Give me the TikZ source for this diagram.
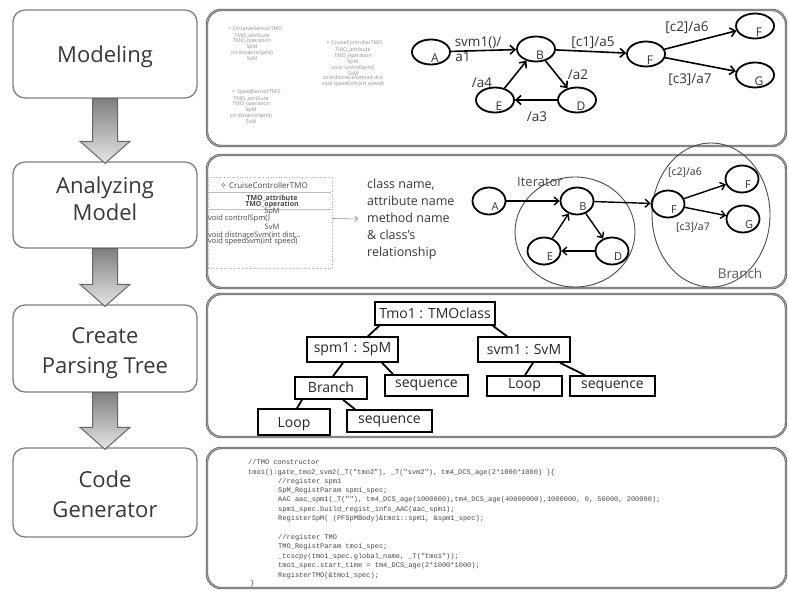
\documentclass[tikz,border=0pt]{standalone}
\usepackage{fontspec}
\setmainfont{Open Sans}
\newfontfamily\codefont{Liberation Mono}
\newfontfamily\symfont{DejaVu Sans}
\usetikzlibrary{arrows.meta,shapes.geometric}

% shaded block arrow from the bottom of one stage box to the top of the next
\newcommand\stagearrow[2]{%
  \draw[flowarrow] ([xshift=-12.5pt]#1.south) -- ([xshift=12.5pt]#1.south)
    -- ([xshift=12.5pt,yshift=20pt]#2.north) -- ([xshift=25pt,yshift=20pt]#2.north)
    -- ([yshift=-2pt]#2.north) -- ([xshift=-25pt,yshift=20pt]#2.north)
    -- ([xshift=-12.5pt,yshift=20pt]#2.north) -- cycle;}

\begin{document}
\begin{tikzpicture}[x=1pt,y=-1pt,
  stagebox/.style={draw=black!50, line width=1.3pt, rounded corners=12pt, minimum width=184pt, inner sep=0pt},
  stagetext/.style={text=black!78, font=\fontsize{22}{28}\selectfont, anchor=base, inner sep=0pt},
  panelbox/.style={draw=black!62, line width=0.9pt, double=black!22, double distance=0.6pt, rounded corners=14pt, minimum width=579pt, inner sep=0pt},
  flowarrow/.style={draw=black!60, line width=1pt, top color=black!50, bottom color=black!10},
  st1/.style={ellipse, draw, line width=1.8pt, minimum width=38pt, minimum height=25pt, inner sep=0pt},
  st2/.style={ellipse, draw, line width=1.8pt, minimum width=33pt, minimum height=27pt, inner sep=0pt},
  let1/.style={font=\fontsize{12}{12}\selectfont, text=black!80, xshift=4pt, yshift=-6pt, inner sep=0pt},
  let2/.style={font=\fontsize{11}{11}\selectfont, text=black!80, xshift=6pt, yshift=-6pt, inner sep=0pt},
  tr1/.style={-{Straight Barb[length=5pt,width=9pt]}, line width=1.6pt},
  tr2/.style={-{Straight Barb[length=4.5pt,width=8pt]}, line width=1.4pt},
  elab1/.style={font=\fontsize{13.5}{13.5}\selectfont, text=black!80, inner sep=0pt},
  elab2/.style={font=\fontsize{10.5}{10.5}\selectfont, text=black!80, inner sep=0pt},
  tbox/.style={draw, line width=1.6pt, inner sep=0pt, font=\fontsize{14}{14}\selectfont, text=black!85},
  tline/.style={line width=1.8pt},
  codeline/.style={font=\codefont\fontsize{7}{9}\selectfont, text=black!72, anchor=west, inner sep=0pt, text height=5pt, text depth=1.5pt},
  umltiny/.style={font=\fontsize{5.2}{4.5}\selectfont, text=black!45, align=center, inner sep=0pt},
  umlsmall/.style={font=\fontsize{7.5}{7.5}\selectfont, text=black!72, inner sep=0pt},
]
\fill[white] (0,0) rectangle (789,591);
\useasboundingbox (0,0) rectangle (789,591);

% ---------------- process stages on the left ----------------
\node[stagebox, minimum height=88pt] (s1) at (105,54) {};
\node[stagebox, minimum height=86pt] (s2) at (105,205) {};
\node[stagebox, minimum height=87pt] (s3) at (105,348.5) {};
\node[stagebox, minimum height=89pt] (s4) at (105,492.5) {};

\node[stagetext] (s1a) at (105,63) {Modeling};
\node[stagetext] (s2a) at (105,193) {Analyzing};
\node[stagetext] (s2b) at (105,220) {Model};
\node[stagetext] (s3a) at (105,343) {Create};
\node[stagetext] (s3b) at (105,373) {Parsing Tree};
\node[stagetext] (s4a) at (105,487) {Code};
\node[stagetext] (s4b) at (105,517) {Generator};

\stagearrow{s1}{s2}
\stagearrow{s2}{s3}
\stagearrow{s3}{s4}

% ---------------- panels on the right ----------------
\node[panelbox, minimum height=136pt] (p1) at (496.5,78) {};
\node[panelbox, minimum height=133pt] (p2) at (496.5,221.5) {};
\node[panelbox, minimum height=143pt] (p3) at (496.5,365.5) {};
\node[panelbox, minimum height=140pt] (p4) at (496.5,518) {};

% ---- panel 1: class diagram sketch ----
\node[umltiny] (u1h) at (255,29) {{\symfont ✧} DistanceSensorTMO};
\node[umltiny, anchor=north] (u1b) at (252,33) {TMO\_attribute\\TMO\_operation\\SpM\\int distanceSpm()\\SvM};
\node[umltiny] (u2h) at (256,92) {{\symfont ✧} SpeedSensorTMO};
\node[umltiny, anchor=north] (u2b) at (251,96) {TMO\_attribute\\TMO\_operation\\SpM\\int distanceSpm()\\SvM};
\node[umltiny] (u3h) at (354,43) {{\symfont ✧} CruiseControllerTMO};
\node[umltiny, anchor=north] (u3b) at (353,47.5) {TMO\_attribute\\TMO\_operation\\SpM\\void controlSpm()\\SvM\\void distnaceSvm(int dist\\void speedSvm(int speed)};

% ---- panel 1: state machine ----
\node[st1, label={[let1]center:A}] (A1) at (431,52) {};
\node[st1, label={[let1]center:B}] (B1) at (536,49) {};
\node[st1, label={[let1]center:F}] (F1) at (646,54) {};
\node[st1, label={[let1]center:F}] (Ft1) at (755,26) {};
\node[st1, label={[let1]center:G}] (G1) at (755,75) {};
\node[st1, label={[let1]center:E}] (E1) at (495,100) {};
\node[st1, label={[let1]center:D}] (D1) at (577,100) {};

\draw[tr1] (A1) -- (B1);
\draw[tr1] (B1) -- (F1);
\draw[tr1] (F1) -- (Ft1);
\draw[tr1] (F1) -- (G1);
\draw[tr1] (B1) -- (D1);
\draw[tr1] (D1) -- (E1);
\draw[tr1] (E1) -- (B1);

\node[elab1] (l1) at (478,43) {svm1()/};
\node[elab1] (l2) at (463,57) {a1};
\node[elab1] (l3) at (593,43) {[c1]/a5};
\node[elab1] (l4) at (687,28) {[c2]/a6};
\node[elab1] (l5) at (690,80) {[c3]/a7};
\node[elab1] (l6) at (578,75) {/a2};
\node[elab1] (l7) at (482,83) {/a4};
\node[elab1] (l8) at (537,117) {/a3};

% ---- panel 2: analysed class ----
\node[draw=black!30, dotted, line width=0.6pt, minimum width=124pt, minimum height=91pt, inner sep=0pt] (uml) at (270,222.5) {};
\draw[black!25, line width=0.5pt] (209,192) -- (331,192);
\draw[black!25, line width=0.5pt] (209,209) -- (331,209);
\node[umlsmall, font=\fontsize{8}{8}\selectfont] (c0) at (264,186) {{\symfont ✧} CruiseControllerTMO};
\node[umlsmall, font=\fontsize{7}{7}\selectfont\bfseries] (c1) at (272,198) {TMO\_attribute};
\node[umlsmall, font=\fontsize{7}{7}\selectfont\bfseries] (c2) at (272,205) {TMO\_operation};
\node[umlsmall] (c3) at (272,212) {SpM};
\node[umlsmall, anchor=west] (c4) at (208,218.5) {void controlSpm()};
\node[umlsmall] (c5) at (272,227) {SvM};
\node[umlsmall, anchor=west] (c6) at (208,235) {void distnaceSvm(int dist,..};
\node[umlsmall, anchor=west] (c7) at (208,242) {void speedSvm(int speed)};

\node[font=\fontsize{12.5}{17}\selectfont, text=black!78, align=left, anchor=west, inner sep=0pt] (desc) at (367,219)
  {class name,\\attribute name\\method name\\\& class's\\relationship};
\draw[black!45, line width=0.6pt, -{Straight Barb[length=3pt,width=6pt]}] ([yshift=4pt]uml.east) -- ([xshift=-9pt]desc.west);

% ---- panel 2: state machine with detected patterns ----
\node[draw=black!70, line width=0.9pt, ellipse, minimum width=120pt, minimum height=110pt, inner sep=0pt] (iter) at (575,232) {};
\node[draw=black!70, line width=0.9pt, ellipse, minimum width=118pt, minimum height=144pt, inner sep=0pt] (branch) at (711,215) {};
\node[font=\fontsize{13}{13}\selectfont, text=black!70, inner sep=0pt] (iterl) at (540,182) {Iterator};
\node[font=\fontsize{13.5}{13.5}\selectfont, text=black!65, inner sep=0pt] (branchl) at (740,273) {Branch};

\node[st2, label={[let2]center:A}] (A2) at (489,201) {};
\node[st2, label={[let2]center:B}] (B2) at (577,201) {};
\node[st2, label={[let2]center:F}] (F2) at (668,204) {};
\node[st2, label={[let2]center:F}] (Ft2) at (742,179) {};
\node[st2, label={[let2]center:G}] (G2) at (743,219) {};
\node[st2, label={[let2]center:E}] (E2) at (544,251) {};
\node[st2, label={[let2]center:D}] (D2) at (612,251) {};

\draw[tr2] (A2) -- (B2);
\draw[tr2] (B2) -- (F2);
\draw[tr2] (F2) -- (Ft2);
\draw[tr2] (F2) -- (G2);
\draw[tr2] (B2) -- (D2);
\draw[tr2] (D2) -- (E2);
\draw[tr2] (E2) -- (B2);

\node[elab2] (m1) at (685,173) {[c2]/a6};
\node[elab2] (m2) at (693,228) {[c3]/a7};

% ---- panel 3: parsing tree ----
\node[tbox, minimum width=120pt, minimum height=23pt] (tmo) at (435,313.5) {Tmo1 : TMOclass};
\node[tbox, minimum width=91pt, minimum height=25pt] (spm) at (352.5,349.5) {spm1 : SpM};
\node[tbox, minimum width=92pt, minimum height=25pt] (svm) at (524,349.5) {svm1 : SvM};
\node[tbox, minimum width=72pt, minimum height=22pt] (br) at (331,388) {\raisebox{-4pt}[0pt][0pt]{Branch}};
\node[tbox, minimum width=83pt, minimum height=21pt] (seqa) at (426.5,385.5) {sequence};
\node[tbox, minimum width=75pt, minimum height=20pt] (loopa) at (524.5,386) {\raisebox{-2pt}[0pt][0pt]{Loop}};
\node[tbox, minimum width=85pt, minimum height=20pt] (seqb) at (612.5,386) {sequence};
\node[tbox, minimum width=72pt, minimum height=26pt] (loopb) at (294,422) {\raisebox{-5pt}[0pt][0pt]{Loop}};
\node[tbox, minimum width=85pt, minimum height=22pt] (seqc) at (389.5,421) {\raisebox{1pt}{sequence}};

\draw[tline] ([xshift=5pt]tmo.south west) -- ([xshift=15.5pt]spm.north);
\draw[tline] ([xshift=-3pt]tmo.south east) -- ([xshift=-17pt]svm.north);
\draw[tline] ([xshift=-9.5pt]spm.south) -- ([xshift=2pt]br.north);
\draw[tline] ([xshift=29.5pt]spm.south) -- ([xshift=-33.5pt]seqa.north);
\draw[tline] ([xshift=9pt]svm.south) -- ([xshift=0.5pt]loopa.north);
\draw[tline] ([xshift=36pt]svm.south) -- ([xshift=-27.5pt]seqb.north);
\draw[tline] ([xshift=-29pt]br.south) -- ([xshift=3pt]loopb.north);
\draw[tline] ([xshift=12pt]br.south) -- ([xshift=-34.5pt]seqc.north);

% ---- panel 4: generated code ----
\node[codeline] (k1) at (248,463) {//TMO constructor};
\node[codeline] (k2) at (248,473) {tmo1():gate\_tmo2\_svm2(\_T("tmo2"), \_T("svm2"), tm4\_DCS\_age(2*1000*1000) )\{};
\node[codeline] (k3) at (278,482) {//register spm1};
\node[codeline] (k4) at (278,491) {SpM\_RegistParam spm1\_spec;};
\node[codeline] (k5) at (278,500) {AAC aac\_spm1(\_T(""), tm4\_DCS\_age(1000000),tm4\_DCS\_age(40000000),1000000, 0, 50000, 200000);};
\node[codeline] (k6) at (278,509.5) {spm1\_spec.build\_regist\_info\_AAC(aac\_spm1);};
\node[codeline] (k7) at (278,518.5) {RegisterSpM( (PFSpMBody)\&tmo1::spm1, \&spm1\_spec);};
\node[codeline] (k8) at (278,538) {//register TMO};
\node[codeline] (k9) at (278,547) {TMO\_RegistParam tmo1\_spec;};
\node[codeline] (k10) at (278,556.5) {\_tcscpy(tmo1\_spec.global\_name, \_T("tmo1"));};
\node[codeline] (k11) at (278,566) {tmo1\_spec.start\_time = tm4\_DCS\_age(2*1000*1000);};
\node[codeline] (k12) at (278,575.5) {RegisterTMO(\&tmo1\_spec);};
\node[codeline] (k13) at (250,584) {\}};
\end{tikzpicture}
\end{document}
